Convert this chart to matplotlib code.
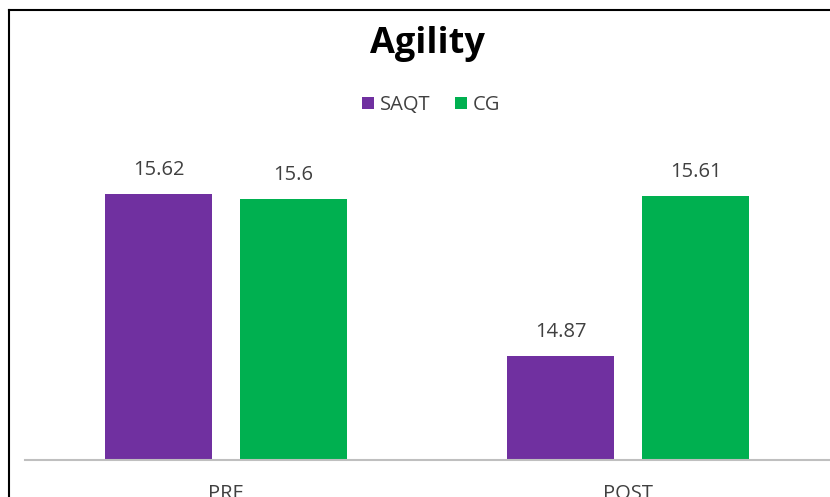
import matplotlib.pyplot as plt
import numpy as np
from matplotlib.lines import Line2D

# data
categories = ["PRE", "POST"]
saqt = [15.62, 14.87]
cg = [15.6, 15.61]
series_names = ["SAQT", "CG"]
colors = ["#7030A0", "#00B050"]

W, H = 830, 497
fig = plt.figure(figsize=(W / 100, H / 100), dpi=100)
plt.rcParams['font.family'] = ['Open Sans', 'DejaVu Sans']

# plot area in pixels: x 25..829, baseline y 460, top y 130
left, right, bottom, top = 25, 829, 460, 130
ax = fig.add_axes([left / W, 1 - bottom / H, (right - left) / W, (bottom - top) / H])

ymin = 14.39
ymax = ymin + (bottom - top) / 216.0

x = np.arange(len(categories))
bw = 0.266
off = 0.168
b1 = ax.bar(x - off, saqt, bw, color=colors[0], label=series_names[0])
b2 = ax.bar(x + off, cg, bw, color=colors[1], label=series_names[1])

for bars in (b1, b2):
    for r in bars:
        v = r.get_height()
        ax.text(r.get_x() + r.get_width() / 2, v + 0.065, f"{v:g}",
                ha="center", va="bottom", fontsize=14.5, color="#404040")

ax.set_ylim(ymin, ymax)
ax.set_xlim(-0.5, 1.5)
ax.set_yticks([])
ax.set_xticks(x)
ax.set_xticklabels(categories, fontsize=14.5, color="#404040")
ax.tick_params(axis="x", length=0, pad=17)
for s in ["top", "right", "left"]:
    ax.spines[s].set_visible(False)
ax.spines["bottom"].set_color("#BFBFBF")
ax.spines["bottom"].set_linewidth(1.5)
ax.patch.set_alpha(0)

fig.text(427 / W, 1 - 44 / H, "Agility", ha="center", va="center",
         fontsize=26, fontweight="bold", color="black")

leg = fig.legend(handles=[b1, b2], loc="center", bbox_to_anchor=(431 / W, 1 - 105 / H),
                 ncol=2, frameon=False, fontsize=14.5, handlelength=0.6, handleheight=0.6,
                 handletextpad=0.3, columnspacing=1.2)
for t in leg.get_texts():
    t.set_color("#404040")

# frame lines (top and left) seen in the picture
fig.add_artist(Line2D([9 / W, 1], [1 - 10 / H, 1 - 10 / H], color="black", lw=1.5))
fig.add_artist(Line2D([9 / W, 9 / W], [0, 1 - 10 / H], color="black", lw=1.5))

fig.savefig("out.png", dpi=100)
